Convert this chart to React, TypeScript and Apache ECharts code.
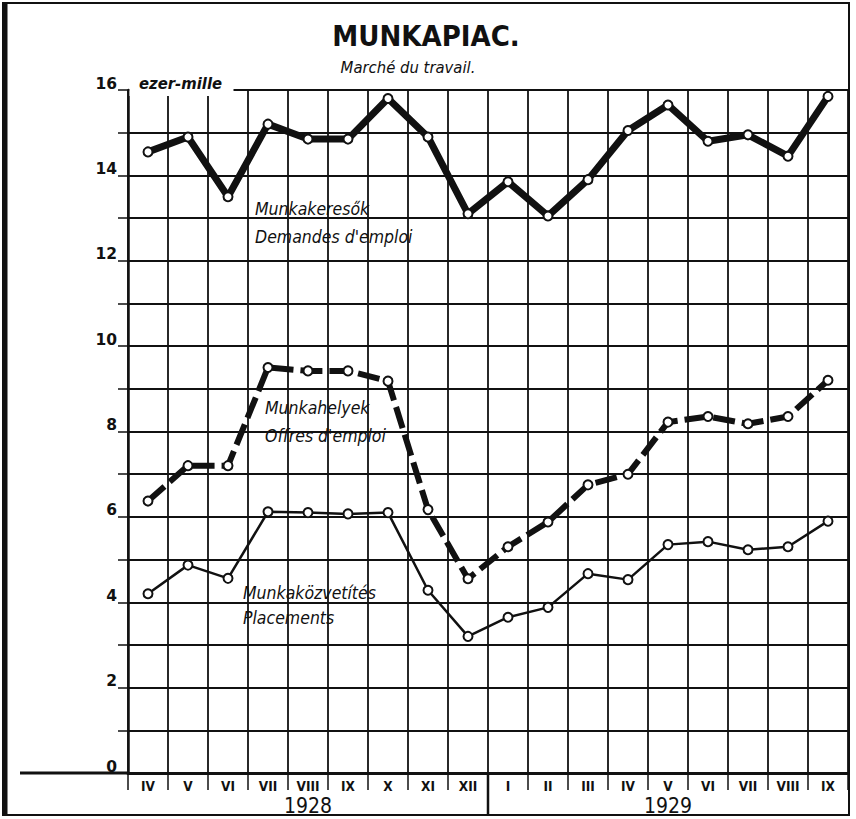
import React, { useEffect, useRef } from 'react';
import * as echarts from 'echarts';

const months = ['IV', 'V', 'VI', 'VII', 'VIII', 'IX', 'X', 'XI', 'XII', 'I', 'II', 'III', 'IV', 'V', 'VI', 'VII', 'VIII', 'IX'];
const years = ['1928', '1929'];
const munkakeresok = [14.55, 14.9, 13.5, 15.2, 14.85, 14.85, 15.8, 14.9, 13.1, 13.85, 13.05, 13.9, 15.05, 15.65, 14.8, 14.95, 14.45, 15.85];
const munkahelyek = [6.37, 7.2, 7.2, 9.5, 9.42, 9.42, 9.18, 6.17, 4.55, 5.3, 5.88, 6.75, 7.0, 8.22, 8.35, 8.18, 8.35, 9.2];
const munkakozvetites = [4.2, 4.87, 4.56, 6.12, 6.1, 6.07, 6.1, 4.28, 3.2, 3.65, 3.88, 4.67, 4.53, 5.35, 5.42, 5.23, 5.3, 5.9];

const COND = "'DejaVu Sans Condensed', 'Liberation Sans Narrow', 'DejaVu Sans', sans-serif";
const INK = '#111';

export default function App() {
  const ref = useRef<HTMLDivElement>(null);
  useEffect(() => {
    document.body.style.margin = '0';
    if (!ref.current) return;
    const chart = echarts.init(ref.current, undefined, { renderer: 'svg' });
    const marker = { color: '#fff', borderColor: INK, borderWidth: 2 };
    const italic = (text: string, x: number, y: number, size: number, weight = 'normal', align = 'left') => ({
      type: 'text', z: 100, x, y,
      style: { text, fill: INK, font: `italic ${weight} ${size}px ${COND}`, textAlign: align, textVerticalAlign: 'middle' },
    });
    const baseGraphic: any[] = [
      { type: 'rect', z: 100, shape: { x: 3, y: 3, width: 846, height: 812 }, style: { fill: 'none', stroke: INK, lineWidth: 2 } },
      { type: 'line', z: 100, shape: { x1: 5, y1: 3, x2: 5, y2: 815 }, style: { stroke: INK, lineWidth: 5 } },
      { type: 'line', z: 100, shape: { x1: 20, y1: 773, x2: 128, y2: 773 }, style: { stroke: INK, lineWidth: 3 } },
      { type: 'rect', z: 99, shape: { x: 129.5, y: 76, width: 104, height: 20 }, style: { fill: '#fff' } },
      {
        type: 'text', z: 100, x: 426, y: 36,
        style: { text: 'MUNKAPIAC.', fill: INK, font: `bold 29px ${COND}`, textAlign: 'center', textVerticalAlign: 'middle' },
      },
      italic('Marché du travail.', 408, 67, 16.5, 'normal', 'center'),
      italic('ezer-mille', 139, 83, 16.5, 'bold'),
      italic('Munkakeresők', 255, 209, 17.5),
      italic("Demandes d'emploi", 255, 237, 17.5),
      italic('Munkahelyek', 265, 408, 17.5),
      italic("Offres d'emploi", 265, 436, 17.5),
      italic('Munkaközvetítés', 243, 593, 17.5),
      italic('Placements', 243, 618, 17.5),
    ];
    const option: any = {
      animation: false,
      backgroundColor: '#fff',
      grid: { left: 128, right: 8, top: 90, bottom: 46 },
      xAxis: [
        {
          type: 'category', data: months, boundaryGap: true,
          axisLine: { lineStyle: { color: INK, width: 3 } },
          axisTick: { show: true, interval: 0, length: 17, lineStyle: { color: INK, width: 1.5 } },
          axisLabel: { interval: 0, margin: 6, color: INK, fontSize: 13.5, fontWeight: 'bold', fontFamily: COND },
          splitLine: { show: true, interval: 0, lineStyle: { color: INK, width: 1.8 } },
        },
        {
          type: 'category', data: years, boundaryGap: true, position: 'bottom',
          axisLine: { show: false }, axisTick: { show: false }, splitLine: { show: false },
          axisLabel: { interval: 0, margin: 22, color: INK, fontSize: 21, fontFamily: COND },
        },
      ],
      yAxis: {
        type: 'value', min: 0, max: 16, interval: 1,
        axisLine: { show: true, lineStyle: { color: INK, width: 2.5 } },
        axisTick: { show: true, length: 10, lineStyle: { color: INK, width: 1.5 } },
        axisLabel: {
          margin: 11, color: INK, fontSize: 15.5, fontWeight: 'bold', fontFamily: "'DejaVu Sans', sans-serif",
          verticalAlign: 'bottom', lineHeight: 13,
          formatter: (v: number) => (v % 2 === 0 ? String(v) : ''),
        },
        splitLine: { show: true, lineStyle: { color: INK, width: 1.8 } },
      },
      series: [
        {
          name: 'Munkakeresők', type: 'line', data: munkakeresok, symbol: 'circle', symbolSize: 9, z: 5,
          lineStyle: { color: INK, width: 7 }, itemStyle: marker,
        },
        {
          name: 'Munkahelyek', type: 'line', data: munkahelyek, symbol: 'circle', symbolSize: 9, z: 5,
          lineStyle: { color: INK, width: 6, type: [22, 7] }, itemStyle: marker,
        },
        {
          name: 'Munkaközvetítés', type: 'line', data: munkakozvetites, symbol: 'circle', symbolSize: 9, z: 5,
          lineStyle: { color: INK, width: 2.5 }, itemStyle: marker,
        },
      ],
      graphic: baseGraphic,
    };
    chart.setOption(option);
    const xa = chart.convertToPixel({ xAxisIndex: 0 }, 8) as number;
    const xb = chart.convertToPixel({ xAxisIndex: 0 }, 9) as number;
    const sep = (xa + xb) / 2;
    chart.setOption({
      graphic: [
        ...baseGraphic,
        { type: 'line', z: 100, shape: { x1: sep, y1: 773, x2: sep, y2: 815 }, style: { stroke: INK, lineWidth: 2.5 } },
      ],
    }, { replaceMerge: ['graphic'] });
    return () => chart.dispose();
  }, []);
  return <div ref={ref} style={{ width: 856, height: 819 }} />;
}
